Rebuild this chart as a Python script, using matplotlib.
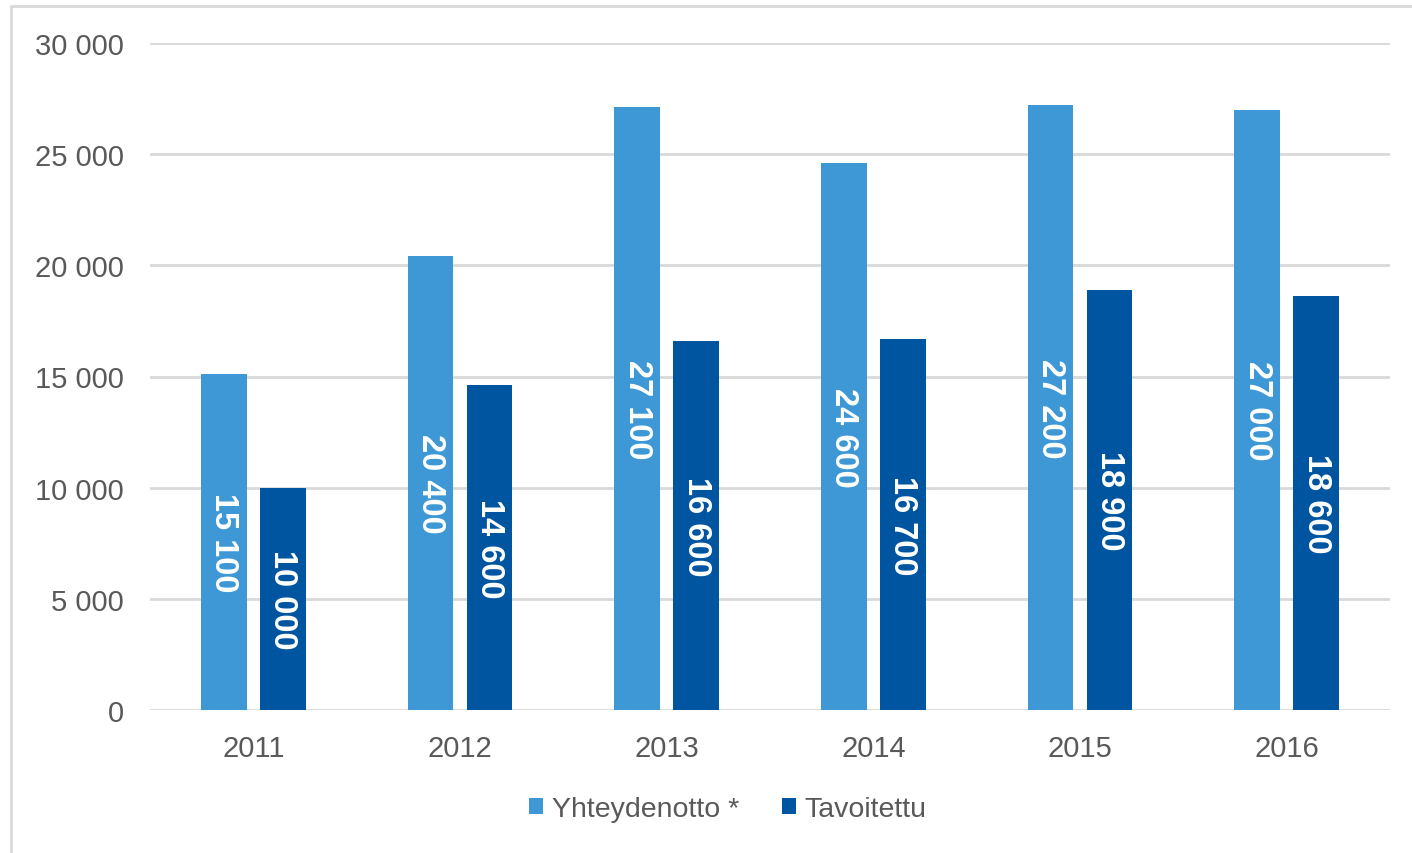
import matplotlib
matplotlib.use('Agg')
import matplotlib.pyplot as plt
import numpy as np
from matplotlib.patches import Rectangle

plt.rcParams['font.family'] = ['Liberation Sans', 'DejaVu Sans']

# data
years = ['2011', '2012', '2013', '2014', '2015', '2016']
yhteydenotto = [15100, 20400, 27100, 24600, 27200, 27000]
tavoitettu = [10000, 14600, 16600, 16700, 18900, 18600]
labels_yht = ['15 100', '20 400', '27 100', '24 600', '27 200', '27 000']
labels_tav = ['10 000', '14 600', '16 600', '16 700', '18 900', '18 600']
yticks = [0, 5000, 10000, 15000, 20000, 25000, 30000]
ytick_labels = ['0', '5 000', '10 000', '15 000', '20 000', '25 000', '30 000']

light = '#3E98D6'
dark = '#0055A0'
grid_c = '#D9D9D9'
text_c = '#595959'

fig = plt.figure(figsize=(14.12, 8.54), dpi=100)
ax = fig.add_axes([150 / 1412, 1 - 711 / 854, 1240 / 1412, 667 / 854])

x = np.arange(len(years))
w = 0.222
off = 0.143
b1 = ax.bar(x - off, yhteydenotto, w, color=light, label='Yhteydenotto *', zorder=3)
b2 = ax.bar(x + off, tavoitettu, w, color=dark, label='Tavoitettu', zorder=3)

for bars, labs in [(b1, labels_yht), (b2, labels_tav)]:
    for rect, lab in zip(bars, labs):
        ax.text(rect.get_x() + rect.get_width() / 2, rect.get_height() / 2, lab,
                rotation=-90, ha='center', va='center', color='white',
                fontsize=23.5, fontweight='bold', zorder=4)

ax.set_xlim(-0.5, 5.5)
ax.set_ylim(0, 30000)
ax.set_yticks(yticks)
ax.set_yticklabels(ytick_labels)
ax.set_xticks(x)
ax.set_xticklabels(years)
ax.tick_params(axis='both', length=0, labelsize=21, colors=text_c)
ax.tick_params(axis='y', pad=19)
ax.tick_params(axis='x', pad=17)
ax.grid(axis='y', color=grid_c, linewidth=2, zorder=0)
for s in ax.spines.values():
    s.set_visible(False)

leg = fig.legend(loc='center', bbox_to_anchor=(728 / 1412, 1 - 810 / 854), ncol=2,
                 frameon=False, fontsize=20.5, handlelength=0.5, handleheight=0.5,
                 handletextpad=0.3, columnspacing=1.5)
for t in leg.get_texts():
    t.set_color(text_c)

# outer chart border
fig.patches.append(Rectangle((11 / 1412, -0.01), 1.02, 1 - 7 / 854 + 0.01,
                             transform=fig.transFigure, fill=False,
                             edgecolor='#D9D9D9', linewidth=2))

fig.savefig('out.png', dpi=100)
